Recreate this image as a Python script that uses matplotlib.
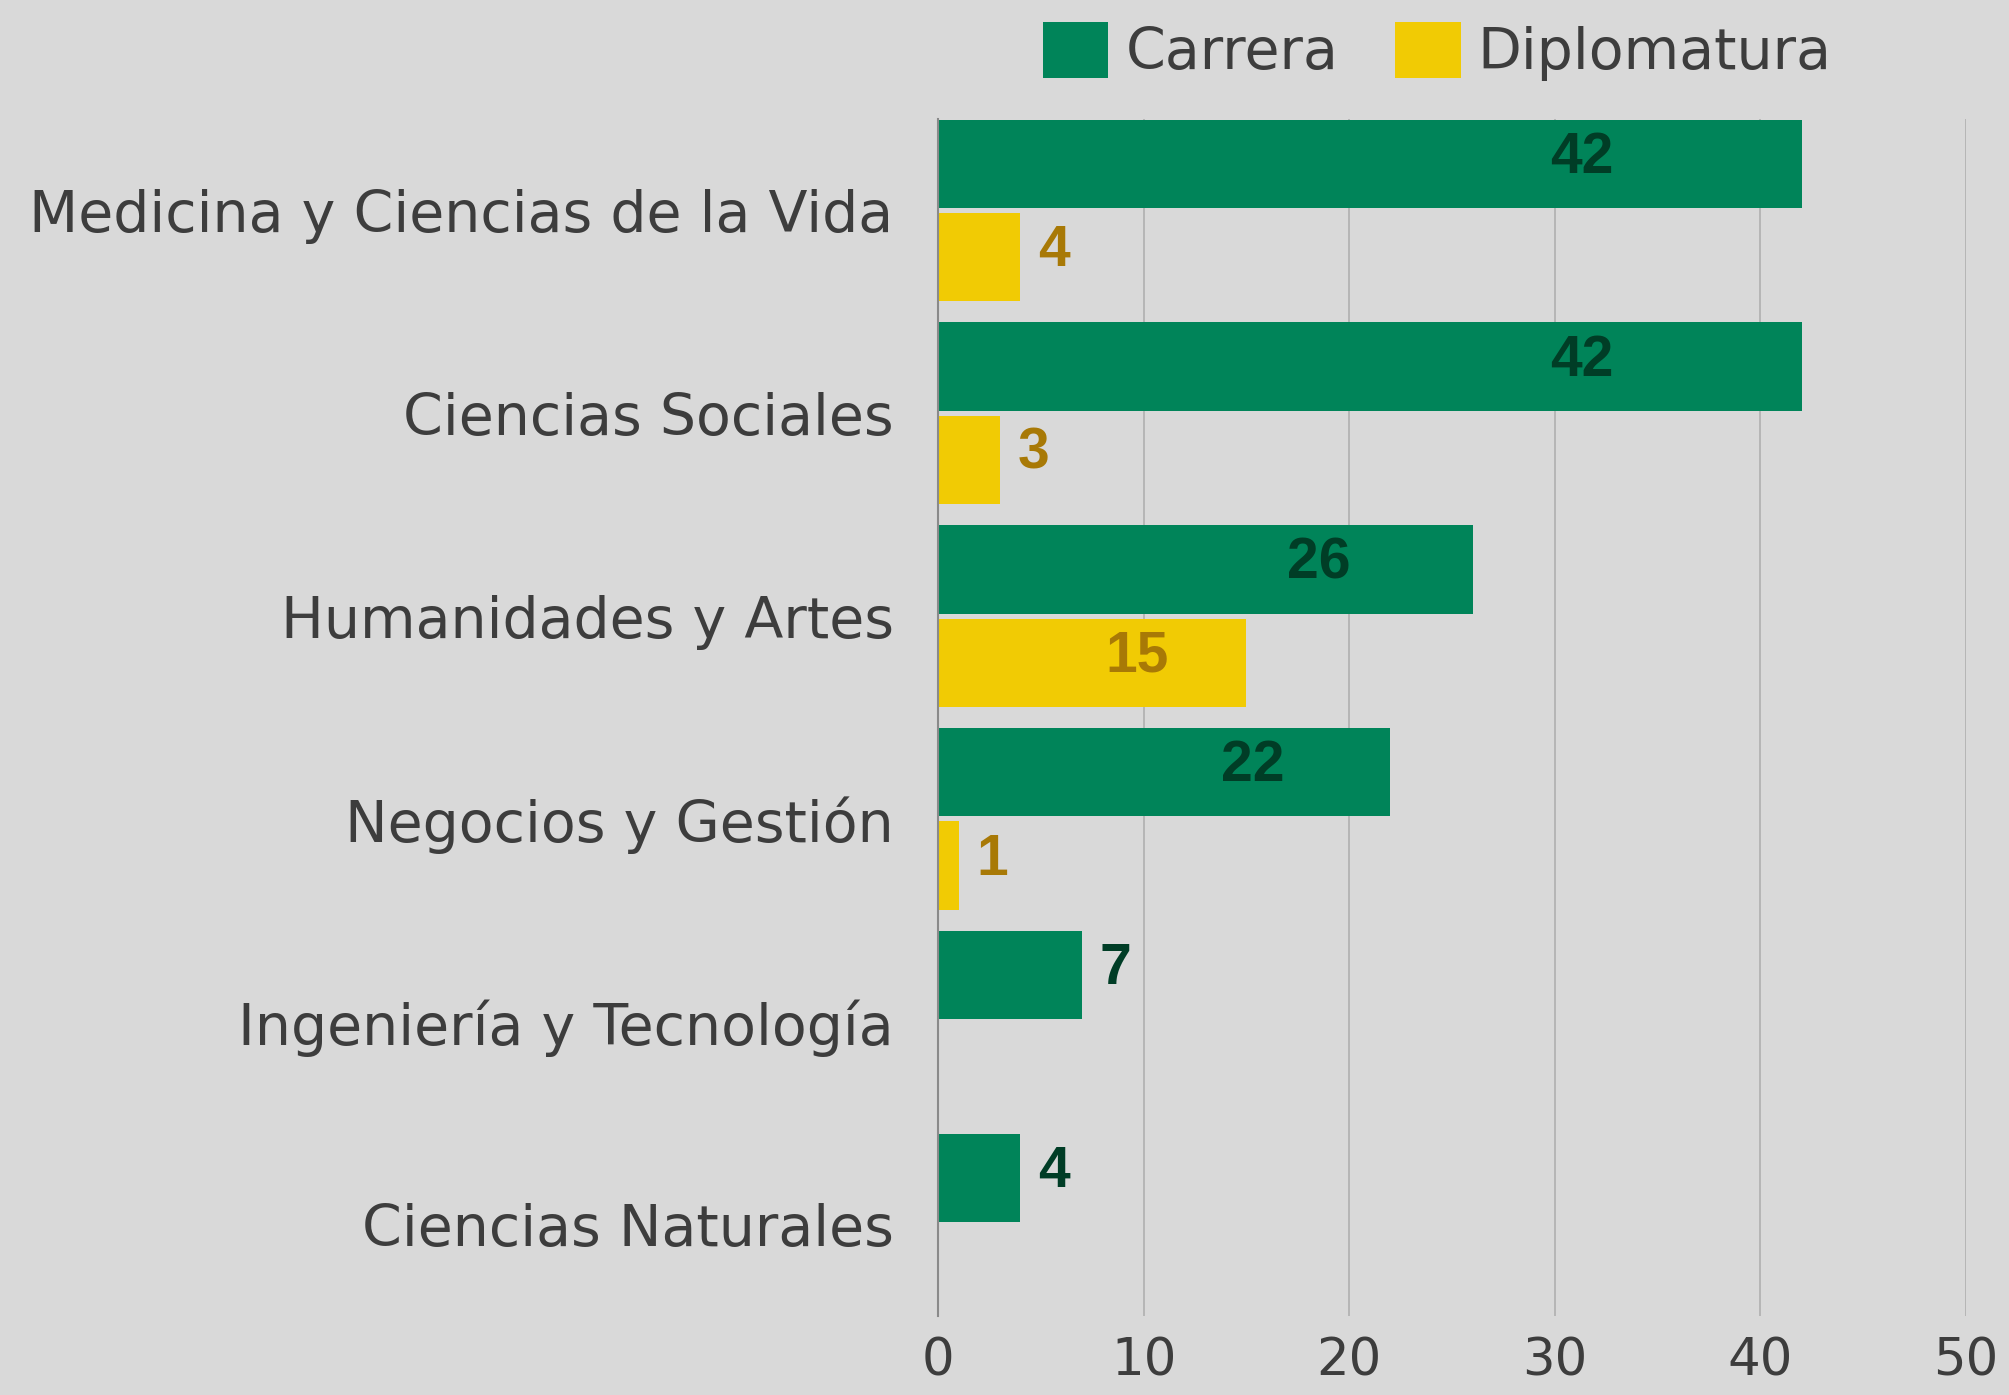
import numpy as np
import matplotlib.pyplot as plt

categories = [
    "Medicina y Ciencias de la Vida",
    "Ciencias Sociales",
    "Humanidades y Artes",
    "Negocios y Gestión",
    "Ingeniería y Tecnología",
    "Ciencias Naturales",
]
carrera = [42, 42, 26, 22, 7, 4]
diplomatura = [4, 3, 15, 1, 0, 0]
series_names = ["Carrera", "Diplomatura"]

BG = "#d9d9d9"
GREEN = "#008459"
YELLOW = "#f1cb04"
GREEN_TXT = "#003d26"
YELLOW_TXT = "#a87906"
TEXT = "#3d3d3d"

plt.rcParams["font.family"] = ["DejaVu Sans"]

fig = plt.figure(figsize=(20.09, 13.95), dpi=100, facecolor=BG)
ax = fig.add_axes([0.4669, 0.0566, 0.5117, 0.8581], facecolor=BG)

y = np.arange(len(categories))
h = 0.435
off = 0.23

bars_c = ax.barh(y - off, carrera, height=h, color=GREEN, label=series_names[0], zorder=3)
bars_d = ax.barh(y + off, diplomatura, height=h, color=YELLOW, label=series_names[1], zorder=3)


def add_labels(bars, values, color):
    for bar, v in zip(bars, values):
        if v == 0:
            continue
        yc = bar.get_y() + bar.get_height() / 2
        if v >= 10:
            ax.annotate(str(v), (0.8 * v - 2.3, yc), xytext=(0, 6), textcoords="offset pixels",
                        ha="center", va="center", fontsize=41, fontweight="bold",
                        family="Liberation Sans", color=color, zorder=4)
        else:
            ax.annotate(str(v), (v, yc), xytext=(18, 6), textcoords="offset pixels",
                        ha="left", va="center", fontsize=41, fontweight="bold",
                        family="Liberation Sans", color=color, zorder=4)


add_labels(bars_c, carrera, GREEN_TXT)
add_labels(bars_d, diplomatura, YELLOW_TXT)

ax.set_xlim(0, 50)
ax.set_ylim(5.45, -0.45)
ax.set_xticks(range(0, 51, 10))
ax.set_yticks(y)
ax.set_yticklabels(categories, va="center_baseline")
ax.tick_params(axis="y", length=0, pad=32, labelsize=41, labelcolor=TEXT)
ax.tick_params(axis="x", length=0, pad=15, labelsize=37, labelcolor=TEXT)
ax.grid(axis="x", color="#b3b3b3", linewidth=1.3, zorder=0)
for s in ["top", "right", "bottom"]:
    ax.spines[s].set_visible(False)
ax.spines["left"].set_color("#8a8a8a")
ax.spines["left"].set_linewidth(1.5)
ax.spines["left"].set_zorder(5)

fig.legend(loc="center right", bbox_to_anchor=(0.926, 0.963), ncol=2, frameon=False,
           fontsize=41, labelcolor=TEXT, handlelength=1.15, handleheight=1.15,
           handletextpad=0.3, columnspacing=1.0, borderpad=0)

fig.savefig("out.png", dpi=100, facecolor=BG)
